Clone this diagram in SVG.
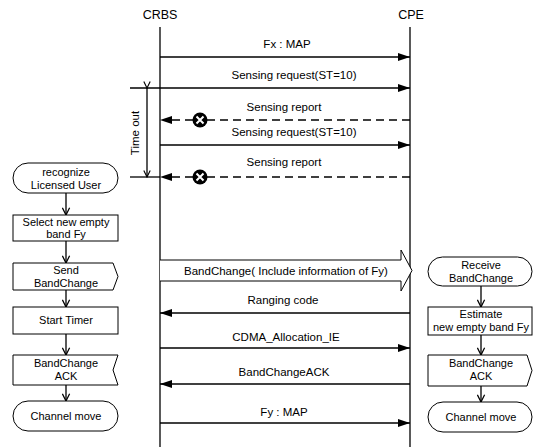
<svg xmlns="http://www.w3.org/2000/svg" width="539" height="447" viewBox="0 0 539 447">
<style>
text{font-family:"Liberation Sans",Arial,sans-serif;fill:#000;}
.lbl{font-size:11.5px;text-anchor:middle;}
.hd{font-size:12.5px;text-anchor:middle;}
.bx{font-size:11px;text-anchor:middle;}
.ln{stroke:#000;stroke-width:1.3;fill:none;}
.dash{stroke:#000;stroke-width:1.5;fill:none;stroke-dasharray:8 5;}
.shape{fill:#fff;stroke:#000;stroke-width:1;}
</style>
<defs>
<marker id="ah" viewBox="0 0 12 8" refX="12" refY="4" markerWidth="12" markerHeight="8" markerUnits="userSpaceOnUse" orient="auto">
<path d="M0,0 L12,4 L0,8 Z" fill="#000"/>
</marker>
<marker id="oa" viewBox="0 0 10 10" refX="9" refY="5" markerWidth="8" markerHeight="8" markerUnits="userSpaceOnUse" orient="auto">
<path d="M1,1 L9,5 L1,9" fill="none" stroke="#000" stroke-width="1.4"/>
</marker>
<marker id="fa" viewBox="0 0 10 10" refX="9" refY="5" markerWidth="9" markerHeight="9" markerUnits="userSpaceOnUse" orient="auto">
<path d="M1,1 L9,5 L1,9" fill="none" stroke="#000" stroke-width="1.4"/>
</marker>
</defs>

<g id="lifelines">
<text class="hd" x="160" y="19">CRBS</text>
<text class="hd" x="411" y="19">CPE</text>
<line class="ln" x1="160" y1="27" x2="160" y2="447"/>
<line class="ln" x1="410" y1="27" x2="410" y2="447"/>
</g>

<g id="connectors">
<line class="ln" x1="160" y1="57" x2="410" y2="57" marker-end="url(#ah)"/>
<line class="ln" x1="130" y1="88" x2="410" y2="88" marker-end="url(#ah)"/>
<path class="dash" d="M410,120 H207"/>
<line class="dash" x1="193" y1="120" x2="172" y2="120"/>
<path d="M160,120 L172,116 L172,124 Z"/>
<line class="ln" x1="160" y1="145" x2="410" y2="145" marker-end="url(#ah)"/>
<path class="dash" d="M410,177 H207"/>
<line class="dash" x1="193" y1="177" x2="172" y2="177"/>
<path d="M160,177 L172,173 L172,181 Z"/>
<line class="ln" x1="130" y1="177" x2="160" y2="177"/>
<line class="ln" x1="147" y1="88" x2="147" y2="177" marker-start="url(#oa)" marker-end="url(#oa)"/>
<path class="shape" d="M160,260 H401 V250 L412,270.5 L401,291 V281 H160"/>
<line class="ln" x1="410" y1="313" x2="160" y2="313" marker-end="url(#ah)"/>
<line class="ln" x1="160" y1="348" x2="410" y2="348" marker-end="url(#ah)"/>
<line class="ln" x1="410" y1="384" x2="160" y2="384" marker-end="url(#ah)"/>
<line class="ln" x1="160" y1="423" x2="410" y2="423" marker-end="url(#ah)"/>
<line class="ln" x1="66" y1="193" x2="66" y2="215" marker-end="url(#fa)"/>
<line class="ln" x1="66" y1="241" x2="66" y2="263" marker-end="url(#fa)"/>
<line class="ln" x1="66" y1="290" x2="66" y2="307" marker-end="url(#fa)"/>
<line class="ln" x1="66" y1="334" x2="66" y2="355" marker-end="url(#fa)"/>
<line class="ln" x1="66" y1="385" x2="66" y2="401" marker-end="url(#fa)"/>
<line class="ln" x1="481" y1="286" x2="481" y2="307" marker-end="url(#fa)"/>
<line class="ln" x1="481" y1="335" x2="481" y2="355" marker-end="url(#fa)"/>
<line class="ln" x1="481" y1="386" x2="481" y2="402" marker-end="url(#fa)"/>
</g>

<g id="labels">
<text class="lbl" x="287" y="48">Fx : MAP</text>
<text class="lbl" x="294" y="79">Sensing request(ST=10)</text>
<text class="lbl" x="284" y="111">Sensing report</text>
<text class="lbl" x="294" y="136">Sensing request(ST=10)</text>
<text class="lbl" x="284" y="166">Sensing report</text>
<text class="lbl" x="286" y="275">BandChange( Include information of Fy)</text>
<text class="lbl" x="283" y="304">Ranging code</text>
<text class="lbl" x="286" y="341">CDMA_Allocation_IE</text>
<text class="lbl" x="284" y="376">BandChangeACK</text>
<text class="lbl" x="284" y="416">Fy : MAP</text>
<text class="lbl" transform="translate(139,133) rotate(-90)">Time out</text>
</g>

<g id="lost1">
<circle cx="200" cy="120" r="7.5" fill="#000"/>
<path d="M196.5,116.5 L203.5,123.5 M203.5,116.5 L196.5,123.5" stroke="#fff" stroke-width="2"/>
</g>
<g id="lost2">
<circle cx="200" cy="177" r="7.5" fill="#000"/>
<path d="M196.5,173.5 L203.5,180.5 M203.5,173.5 L196.5,180.5" stroke="#fff" stroke-width="2"/>
</g>

<g id="recognize">
<rect class="shape" x="13" y="163" width="105" height="30" rx="15"/>
<text class="bx" x="66" y="176">recognize</text>
<text class="bx" x="66" y="189">Licensed User</text>
</g>
<g id="select">
<rect class="shape" x="13" y="215" width="105" height="26"/>
<text class="bx" x="66" y="226">Select new empty</text>
<text class="bx" x="66" y="238">band Fy</text>
</g>
<g id="send">
<path class="shape" d="M13,263 H113 L118,276.5 L113,290 H13 Z"/>
<text class="bx" x="66" y="274">Send</text>
<text class="bx" x="66" y="287">BandChange</text>
</g>
<g id="timer">
<rect class="shape" x="13" y="307" width="105" height="27"/>
<text class="bx" x="66" y="324">Start Timer</text>
</g>
<g id="ackL">
<path class="shape" d="M13,355 H118 L113,370 L118,385 H13 Z"/>
<text class="bx" x="66" y="367">BandChange</text>
<text class="bx" x="66" y="380">ACK</text>
</g>
<g id="moveL">
<rect class="shape" x="13" y="401" width="105" height="30" rx="15"/>
<text class="bx" x="66" y="420">Channel move</text>
</g>

<g id="receive">
<rect class="shape" x="428" y="257" width="104" height="29" rx="14.5"/>
<text class="bx" x="481" y="269">Receive</text>
<text class="bx" x="481" y="282">BandChange</text>
</g>
<g id="estimate">
<rect class="shape" x="428" y="307" width="104" height="28"/>
<text class="bx" x="481" y="318">Estimate</text>
<text class="bx" x="481" y="331">new empty band Fy</text>
</g>
<g id="ackR">
<path class="shape" d="M428,355 H527 L532,370.5 L527,386 H428 Z"/>
<text class="bx" x="481" y="367">BandChange</text>
<text class="bx" x="481" y="380">ACK</text>
</g>
<g id="moveR">
<rect class="shape" x="428" y="402" width="104" height="30" rx="15"/>
<text class="bx" x="481" y="421">Channel move</text>
</g>
</svg>
